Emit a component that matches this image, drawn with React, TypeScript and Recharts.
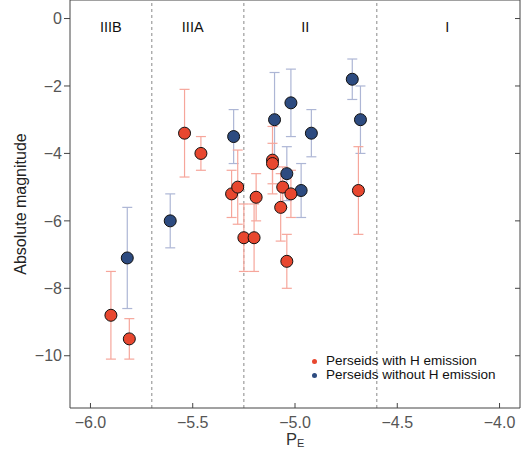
import {
  ScatterChart,
  Scatter,
  XAxis,
  YAxis,
  ErrorBar,
  ReferenceLine,
  ReferenceDot,
} from "recharts";

const FONT = '"Liberation Sans", Arial, sans-serif';
const RED = "#e8472f";
const BLUE = "#2d4b80";
const RED_ERR = "#f6a69b";
const BLUE_ERR = "#adb6d5";

// Perseids with H emission
const withHx = [-5.9, -5.81, -5.54, -5.46, -5.31, -5.28, -5.25, -5.2, -5.19, -5.11, -5.11, -5.07, -5.06, -5.02, -5.04, -4.69];
const withHy = [-8.8, -9.5, -3.4, -4.0, -5.2, -5.0, -6.5, -6.5, -5.3, -4.2, -4.3, -5.6, -5.0, -5.2, -7.2, -5.1];
const withHerr = [1.3, 0.6, 1.3, 0.5, 0.7, 1.1, 1.0, 1.0, 0.7, 1.0, 0.6, 1.0, 0.6, 0.7, 0.8, 1.3];

// Perseids without H emission
const noHx = [-5.82, -5.61, -5.3, -5.1, -5.02, -5.04, -4.97, -4.92, -4.72, -4.68];
const noHy = [-7.1, -6.0, -3.5, -3.0, -2.5, -4.6, -5.1, -3.4, -1.8, -3.0];
const noHerr = [1.5, 0.8, 0.8, 1.4, 1.0, 0.8, 0.8, 0.7, 0.6, 1.0];

const xTicks = [-6, -5.5, -5, -4.5, -4];
const yTicks = [0, -2, -4, -6, -8, -10];
const dividers = [-5.7, -5.25, -4.6];
const regionNames = ["IIIB", "IIIA", "II", "I"];
const regionCenters = [-5.9, -5.5, -4.95, -4.255];

const withH = withHx.map((x, i) => ({ x, y: withHy[i], err: withHerr[i] }));
const noH = noHx.map((x, i) => ({ x, y: noHy[i], err: noHerr[i] }));

const fmtX = (v: number) => (v < 0 ? "\u2212" : "") + Math.abs(v).toFixed(1);
const fmtY = (v: number) => (v < 0 ? "\u2212" : "") + Math.abs(v);

const dot = (color: string) => (p: any) =>
  <circle cx={p.cx} cy={p.cy} r={6} fill={color} stroke="#111" strokeWidth={1} />;

const CustomLegend = () => {
  const rows = [
    { c: RED, t: "Perseids with H emission" },
    { c: BLUE, t: "Perseids without H emission" },
  ];
  return (
    <div
      style={{
        position: "absolute",
        left: 312,
        top: 354,
        fontFamily: FONT,
        fontSize: 13.5,
        lineHeight: "14px",
        color: "#111",
      }}
    >
      {rows.map((r) => (
        <div key={r.t} style={{ display: "flex", alignItems: "center", whiteSpace: "nowrap" }}>
          <span
            style={{ width: 5, height: 5, borderRadius: "50%", background: r.c, marginRight: 9, display: "inline-block" }}
          ></span>
          {r.t}
        </div>
      ))}
    </div>
  );
};

const XLabel = () => (
  <text x={286} y={445} fontFamily={FONT} fontSize={16.5} fill="#333">
    P
    <tspan fontSize={11} dy={2}>E</tspan>
  </text>
);

const App = () => {
  const tickStyle = { fontFamily: FONT, fontSize: 16, fill: "#555" };
  return (
    <div style={{ position: "absolute", left: 0, top: 0, width: 531, height: 454 }}>
      <ScatterChart width={531} height={454} margin={{ top: -1, right: 10, bottom: 16, left: 0 }}>
        <XAxis
          type="number"
          dataKey="x"
          domain={[-6.1, -3.9]}
          ticks={xTicks}
          allowDataOverflow
          tickFormatter={fmtX}
          tickSize={-5}
          tickMargin={14}
          height={30}
          tick={tickStyle}
          stroke="#444"
          label={<XLabel />}
        />
        <XAxis
          xAxisId="top"
          orientation="top"
          type="number"
          domain={[-6.1, -3.9]}
          ticks={xTicks}
          allowDataOverflow
          tickFormatter={() => ""}
          tickSize={-5}
          height={1}
          stroke="#444"
        />
        <YAxis
          type="number"
          dataKey="y"
          domain={[-11.55, 0.55]}
          ticks={yTicks}
          allowDataOverflow
          tickFormatter={fmtY}
          tickSize={6}
          tickMargin={2}
          width={70}
          tick={tickStyle}
          stroke="#444"
          label={{
            value: "Absolute magnitude",
            angle: -90,
            position: "insideLeft",
            offset: 20,
            fill: "#222",
            style: { fontFamily: FONT, fontSize: 16, fill: "#222", textAnchor: "middle" },
          }}
        />
        <YAxis
          yAxisId="right"
          orientation="right"
          type="number"
          domain={[-11.55, 0.55]}
          ticks={yTicks}
          allowDataOverflow
          tickFormatter={() => ""}
          tickSize={-5}
          width={1}
          stroke="#444"
        />
        {dividers.map((d) => (
          <ReferenceLine key={d} x={d} stroke="#888" strokeDasharray="3 3" />
        ))}
        {regionNames.map((n, i) => (
          <ReferenceDot
            key={n}
            x={regionCenters[i]}
            y={-0.24}
            r={0}
            stroke="none"
            fill="none"
            label={{
              value: n,
              position: "center",
              fill: "#111",
              style: { fontFamily: FONT, fontSize: 14.5, fill: "#111" },
            }}
          />
        ))}
        <Scatter data={noH} shape={dot(BLUE)} isAnimationActive={false}>
          <ErrorBar dataKey="err" direction="y" width={5} stroke={BLUE_ERR} strokeWidth={1.2} />
        </Scatter>
        <Scatter data={withH} shape={dot(RED)} isAnimationActive={false}>
          <ErrorBar dataKey="err" direction="y" width={5} stroke={RED_ERR} strokeWidth={1.2} />
        </Scatter>
      </ScatterChart>
      <CustomLegend />
    </div>
  );
};

export default App;
